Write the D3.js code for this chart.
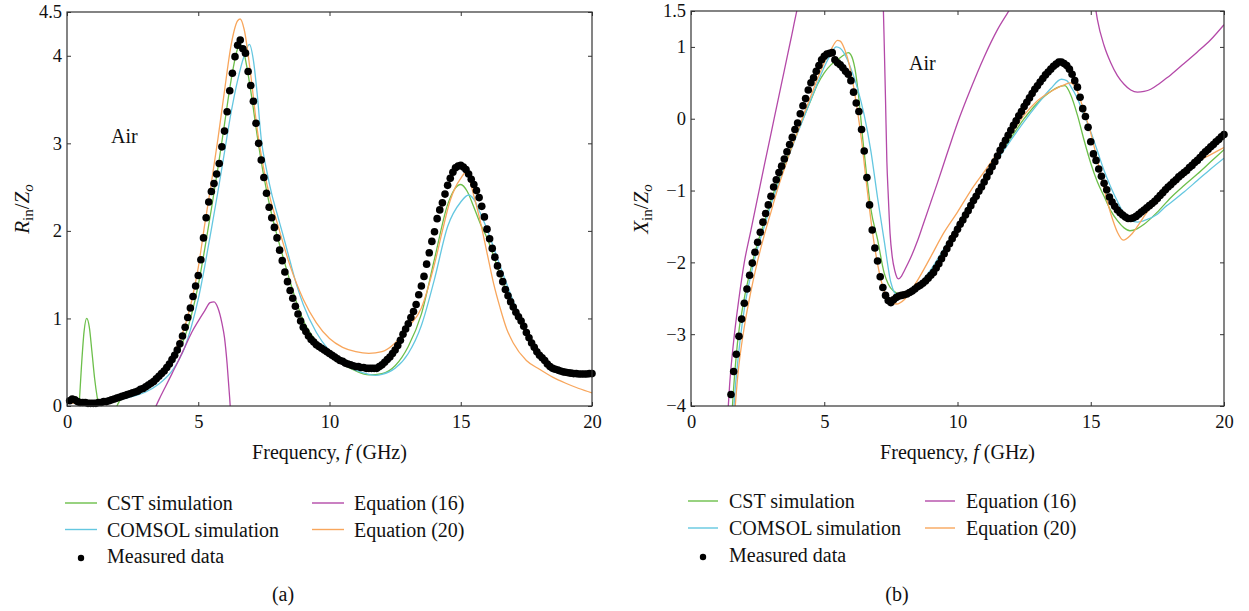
<!DOCTYPE html>
<meta charset="utf-8">
<style>
body { margin: 0; background: #fff; }
svg { font-family: "Liberation Serif", "DejaVu Serif", serif; }
.frame { fill: none; stroke: #333; stroke-width: 1.2px; }
.tick line { stroke: #333; stroke-width: 1px; }
.tick text { font-family: "Liberation Serif", serif; font-size: 18.5px; fill: #111; }
.line { fill: none; stroke-width: 1.3px; }
.lab { font-size: 20px; fill: #111; }
</style>
<body>
<script src="https://d3js.org/d3.v7.min.js"></script>
<script>

// ---- panel (a): Rin/Zo ----
// measured data, 0.1 GHz steps from 0.1 to 20.0 GHz
var leftMeasured = [
  0.06,0.08,0.07,0.05,0.04,0.04,0.04,0.03,0.03,0.03,
  0.03,0.04,0.04,0.05,0.05,0.06,0.07,0.08,0.09,0.10,
  0.11,0.12,0.13,0.14,0.15,0.16,0.17,0.19,0.20,0.22,
  0.24,0.26,0.28,0.31,0.34,0.37,0.40,0.44,0.48,0.53,
  0.58,0.64,0.71,0.80,0.90,1.01,1.12,1.25,1.37,1.49,
  1.67,1.92,2.15,2.33,2.45,2.54,2.65,2.77,2.96,3.14,
  3.36,3.60,3.80,3.99,4.12,4.18,4.08,4.03,3.82,3.66,
  3.48,3.23,3.00,2.81,2.61,2.43,2.27,2.15,2.04,1.92,
  1.78,1.66,1.53,1.42,1.32,1.23,1.14,1.05,0.97,0.90,
  0.85,0.80,0.76,0.73,0.70,0.68,0.66,0.64,0.62,0.60,
  0.58,0.56,0.54,0.52,0.51,0.49,0.48,0.47,0.46,0.45,
  0.45,0.44,0.44,0.43,0.43,0.43,0.43,0.43,0.45,0.47,
  0.50,0.53,0.56,0.60,0.64,0.69,0.75,0.82,0.88,0.94,
  1.01,1.08,1.16,1.27,1.37,1.48,1.62,1.75,1.88,1.99,
  2.14,2.24,2.32,2.42,2.52,2.60,2.67,2.72,2.74,2.75,
  2.73,2.70,2.65,2.59,2.53,2.46,2.38,2.28,2.16,2.02,
  1.91,1.80,1.70,1.60,1.51,1.42,1.33,1.26,1.19,1.13,
  1.07,1.02,0.97,0.91,0.84,0.78,0.72,0.67,0.62,0.58,
  0.55,0.52,0.48,0.45,0.43,0.42,0.41,0.40,0.39,0.385,
  0.38,0.375,0.37,0.37,0.365,0.365,0.365,0.365,0.37,0.37
];
var leftFreq = d3.range(1, 201).map(function(i) { return i / 10; });

var leftCst = [[0.35,-0.4],[0.45,-0.05],[0.55,0.45],[0.65,0.85],[0.75,1.0],[0.85,0.9],[0.95,0.62],[1.05,0.32],[1.15,0.1],[1.25,-0.05],[1.4,-0.2],[1.6,-0.25],[1.8,-0.08],[1.95,0.03],[2.1,0.09],[2.3,0.12],[2.5,0.14],[2.75,0.16],[3.0,0.2],[3.25,0.25],[3.5,0.31],[3.75,0.38],[4.0,0.48],[4.25,0.62],[4.5,0.8],[4.75,1.05],[5.0,1.38],[5.25,1.8],[5.5,2.25],[5.75,2.72],[6.0,3.22],[6.25,3.72],[6.5,4.08],[6.6,4.13],[6.75,4.02],[7.0,3.6],[7.25,3.08],[7.5,2.62],[7.75,2.25],[8.0,1.95],[8.25,1.68],[8.5,1.42],[8.75,1.18],[9.0,0.98],[9.5,0.74],[10.0,0.6],[10.5,0.48],[11.0,0.4],[11.5,0.355],[12.0,0.37],[12.5,0.46],[13.0,0.68],[13.5,1.05],[14.0,1.68],[14.5,2.3],[14.75,2.47],[15.0,2.53],[15.25,2.45],[15.5,2.27],[15.75,2.08],[16.0,1.92],[16.5,1.5],[17.0,1.12],[17.5,0.82],[18.0,0.58],[18.5,0.44],[19.0,0.38],[19.5,0.36],[20.0,0.35]];

var leftComsol = [[0.1,0.05],[0.5,0.03],[1.0,0.03],[1.5,0.04],[2.0,0.07],[2.5,0.11],[3.0,0.16],[3.5,0.25],[4.0,0.4],[4.25,0.52],[4.5,0.68],[4.75,0.92],[5.0,1.22],[5.25,1.6],[5.5,2.02],[5.75,2.45],[6.0,2.9],[6.25,3.35],[6.5,3.72],[6.75,4.0],[6.95,4.13],[7.1,3.95],[7.25,3.55],[7.4,3.05],[7.6,2.7],[7.8,2.42],[8.0,2.2],[8.25,1.93],[8.5,1.65],[8.75,1.38],[9.0,1.16],[9.5,0.84],[10.0,0.63],[10.5,0.49],[11.0,0.41],[11.5,0.36],[11.75,0.35],[12.0,0.36],[12.5,0.43],[13.0,0.6],[13.5,0.92],[14.0,1.45],[14.5,2.05],[15.0,2.33],[15.3,2.41],[15.5,2.36],[15.75,2.2],[16.0,2.02],[16.5,1.6],[17.0,1.2],[17.5,0.86],[18.0,0.61],[18.5,0.46],[19.0,0.4],[19.5,0.37],[20.0,0.36]];

var leftEq16 = [[3.3,-0.06],[3.5,0.07],[3.75,0.22],[4.0,0.37],[4.25,0.52],[4.5,0.68],[4.75,0.84],[5.0,0.97],[5.25,1.09],[5.45,1.18],[5.6,1.19],[5.75,1.12],[5.9,0.95],[6.0,0.78],[6.1,0.48],[6.2,0.08],[6.26,-0.2]];

var leftEq20 = [[0.1,0.03],[0.5,0.04],[1.0,0.05],[1.5,0.07],[2.0,0.11],[2.5,0.16],[3.0,0.24],[3.5,0.36],[4.0,0.56],[4.25,0.72],[4.5,0.92],[4.75,1.2],[5.0,1.58],[5.25,2.08],[5.5,2.55],[5.75,3.05],[6.0,3.6],[6.25,4.12],[6.5,4.4],[6.6,4.42],[6.75,4.3],[7.0,3.78],[7.25,3.15],[7.5,2.7],[7.75,2.36],[8.0,2.1],[8.5,1.6],[9.0,1.22],[9.5,0.95],[10.0,0.77],[10.5,0.67],[11.0,0.62],[11.5,0.6],[12.0,0.62],[12.5,0.72],[13.0,0.9],[13.5,1.12],[14.0,1.62],[14.3,2.0],[14.6,2.35],[14.8,2.5],[15.0,2.6],[15.2,2.67],[15.5,2.4],[15.75,2.1],[16.0,1.75],[16.25,1.4],[16.5,1.12],[16.75,0.88],[17.0,0.72],[17.5,0.52],[18.0,0.42],[18.5,0.33],[19.0,0.26],[19.5,0.2],[20.0,0.15]];

// ---- panel (b): Xin/Zo ----
// measured data, 0.1 GHz steps from 1.5 to 20.0 GHz
var rightMeasured = [
  -3.84,-3.52,-3.28,-3.03,-2.79,
  -2.57,-2.37,-2.18,-2.01,-1.86,-1.72,-1.58,-1.44,-1.32,-1.20,
  -1.08,-0.95,-0.85,-0.75,-0.66,-0.56,-0.46,-0.36,-0.26,-0.15,
  -0.06,0.07,0.18,0.28,0.40,0.50,0.57,0.66,0.74,0.82,
  0.87,0.90,0.91,0.92,0.82,0.78,0.75,0.71,0.66,0.62,
  0.53,0.37,0.22,0.10,-0.15,-0.45,-0.82,-1.20,-1.55,-1.80,
  -1.98,-2.20,-2.35,-2.46,-2.53,-2.56,-2.52,-2.49,-2.47,-2.46,
  -2.45,-2.44,-2.42,-2.40,-2.37,-2.34,-2.32,-2.29,-2.26,-2.22,
  -2.18,-2.14,-2.08,-2.02,-1.95,-1.88,-1.81,-1.74,-1.67,-1.61,
  -1.54,-1.47,-1.41,-1.34,-1.28,-1.21,-1.14,-1.08,-1.01,-0.95,
  -0.88,-0.81,-0.74,-0.67,-0.60,-0.52,-0.44,-0.37,-0.30,-0.23,
  -0.16,-0.09,-0.03,0.04,0.10,0.17,0.23,0.29,0.35,0.41,
  0.46,0.51,0.56,0.61,0.65,0.69,0.73,0.76,0.79,0.79,
  0.77,0.74,0.69,0.62,0.53,0.44,0.30,0.14,0.03,-0.12,
  -0.32,-0.49,-0.58,-0.70,-0.80,-0.90,-0.99,-1.09,-1.16,-1.22,
  -1.27,-1.31,-1.34,-1.37,-1.39,-1.39,-1.38,-1.36,-1.33,-1.30,
  -1.27,-1.24,-1.21,-1.18,-1.15,-1.11,-1.07,-1.03,-0.99,-0.95,
  -0.92,-0.88,-0.85,-0.81,-0.78,-0.75,-0.72,-0.68,-0.65,-0.61,
  -0.58,-0.54,-0.50,-0.46,-0.43,-0.39,-0.36,-0.32,-0.29,-0.25,
  -0.22
];
var rightFreq = d3.range(15, 201).map(function(i) { return i / 10; });

var rightCst = [[1.52,-4.2],[1.6,-3.75],[1.75,-3.1],[2.0,-2.5],[2.25,-2.08],[2.5,-1.73],[2.75,-1.44],[3.0,-1.14],[3.25,-0.88],[3.5,-0.64],[3.75,-0.41],[4.0,-0.18],[4.25,0.04],[4.5,0.26],[4.75,0.48],[5.0,0.64],[5.25,0.75],[5.5,0.82],[5.75,0.89],[5.9,0.92],[6.0,0.89],[6.15,0.7],[6.3,0.28],[6.45,-0.3],[6.6,-0.82],[6.75,-1.26],[7.0,-1.68],[7.25,-2.15],[7.4,-2.3],[7.6,-2.4],[7.9,-2.45],[8.0,-2.44],[8.5,-2.33],[9.0,-2.12],[9.5,-1.82],[10.0,-1.5],[10.5,-1.17],[11.0,-0.86],[11.5,-0.56],[12.0,-0.27],[12.5,0.0],[13.0,0.22],[13.5,0.38],[13.85,0.45],[14.03,0.46],[14.25,0.33],[14.5,0.05],[14.75,-0.3],[15.0,-0.62],[15.25,-0.88],[15.5,-1.08],[15.75,-1.28],[16.0,-1.42],[16.25,-1.52],[16.47,-1.56],[16.75,-1.53],[17.0,-1.47],[17.5,-1.3],[18.0,-1.1],[18.5,-0.93],[19.0,-0.77],[19.5,-0.6],[20.0,-0.43]];

var rightComsol = [[1.58,-4.2],[1.65,-3.8],[1.75,-3.4],[2.0,-2.65],[2.25,-2.17],[2.5,-1.8],[2.75,-1.5],[3.0,-1.2],[3.25,-0.93],[3.5,-0.68],[3.75,-0.44],[4.0,-0.2],[4.25,0.03],[4.5,0.27],[4.75,0.5],[5.0,0.72],[5.25,0.9],[5.45,1.0],[5.6,0.98],[5.75,0.91],[6.0,0.7],[6.25,0.42],[6.5,0.05],[6.75,-0.45],[7.0,-1.1],[7.25,-1.7],[7.5,-2.28],[7.75,-2.46],[8.0,-2.45],[8.5,-2.32],[9.0,-2.1],[9.5,-1.8],[10.0,-1.48],[10.5,-1.16],[11.0,-0.86],[11.5,-0.57],[12.0,-0.3],[12.5,-0.04],[13.0,0.2],[13.5,0.42],[13.9,0.55],[14.1,0.53],[14.25,0.45],[14.5,0.28],[14.75,0.05],[15.0,-0.18],[15.25,-0.45],[15.5,-0.72],[15.75,-0.95],[16.0,-1.15],[16.25,-1.32],[16.5,-1.42],[16.75,-1.44],[17.0,-1.42],[17.5,-1.33],[17.85,-1.21],[18.0,-1.17],[18.5,-1.02],[19.0,-0.86],[19.5,-0.7],[20.0,-0.55]];

// equation (16) has three separate branches inside the window
var rightEq16 = [
  [[1.35,-4.3],[1.45,-3.7],[1.6,-3.1],[1.8,-2.5],[2.0,-2.0],[2.25,-1.55],[2.5,-1.1],[2.75,-0.65],[3.0,-0.21],[3.25,0.23],[3.5,0.67],[3.75,1.11],[4.0,1.55],[4.1,1.7]],
  [[7.18,1.8],[7.22,1.5],[7.25,1.05],[7.3,0.25],[7.35,-0.6],[7.4,-1.05],[7.47,-1.6],[7.55,-1.92],[7.65,-2.12],[7.78,-2.23],[7.9,-2.19],[8.0,-2.12],[8.25,-1.93],[8.5,-1.7],[8.75,-1.43],[9.0,-1.16],[9.25,-0.89],[9.5,-0.61],[9.75,-0.33],[10.0,-0.06],[10.5,0.42],[11.0,0.86],[11.5,1.24],[12.0,1.55],[12.1,1.62]],
  [[15.1,1.75],[15.25,1.38],[15.5,1.02],[15.75,0.78],[16.0,0.6],[16.25,0.48],[16.5,0.4],[16.75,0.37],[17.0,0.38],[17.25,0.41],[17.5,0.47],[17.75,0.54],[18.0,0.61],[18.5,0.77],[19.0,0.93],[19.5,1.1],[20.0,1.31]]
];

var rightEq20 = [[1.62,-4.2],[1.75,-3.6],[2.0,-2.9],[2.25,-2.4],[2.5,-1.98],[2.75,-1.62],[3.0,-1.3],[3.25,-0.98],[3.5,-0.7],[3.75,-0.43],[4.0,-0.18],[4.25,0.08],[4.5,0.32],[4.75,0.56],[5.0,0.78],[5.25,0.96],[5.5,1.09],[5.6,1.08],[5.75,0.98],[6.0,0.65],[6.2,0.22],[6.4,-0.3],[6.6,-0.95],[6.8,-1.55],[7.0,-2.02],[7.25,-2.4],[7.5,-2.55],[7.72,-2.58],[8.0,-2.52],[8.5,-2.25],[9.0,-1.92],[9.5,-1.58],[10.0,-1.3],[10.5,-1.0],[11.0,-0.74],[11.5,-0.48],[12.0,-0.22],[12.5,0.05],[13.0,0.25],[13.5,0.38],[14.0,0.47],[14.24,0.5],[14.5,0.38],[14.75,0.1],[15.0,-0.2],[15.25,-0.58],[15.5,-0.98],[15.75,-1.32],[16.0,-1.58],[16.22,-1.69],[16.5,-1.62],[16.75,-1.5],[17.0,-1.36],[17.5,-1.12],[17.85,-0.93],[18.0,-0.88],[18.5,-0.73],[19.0,-0.6],[19.5,-0.5],[20.0,-0.4]];

var xTicks = [0, 5, 10, 15, 20];
var leftTicks = [0, 1, 2, 3, 4, 4.5];
var rightTicks = [-4, -3, -2, -1, 0, 1, 1.5];

var colors = { cst: "#6cbf4a", comsol: "#64c7e0", eq16: "#b449a8", eq20: "#f8a65c" };

var svg = d3.select("body").append("svg")
    .attr("width", 1249)
    .attr("height", 611);

function fmt(d) { return d < 0 ? "\u2212" + Math.abs(d) : String(d); }

function drawPanel(p) {
  var x = d3.scaleLinear().domain([0, 20]).range([p.left, p.right]);
  var y = d3.scaleLinear().domain(p.yDomain).range([p.bottom, p.top]);

  svg.append("clipPath").attr("id", "clip" + p.name)
    .append("rect")
      .attr("x", p.left).attr("y", p.top)
      .attr("width", p.right - p.left).attr("height", p.bottom - p.top);

  // inward ticks on all four sides
  svg.append("g").attr("transform", "translate(0," + p.bottom + ")")
      .call(d3.axisBottom(x).tickValues(xTicks).tickSize(-4).tickPadding(9))
      .call(function(g) { g.select(".domain").remove(); });
  svg.append("g").attr("transform", "translate(0," + p.top + ")")
      .call(d3.axisTop(x).tickValues(xTicks).tickSize(-4).tickFormat(""))
      .call(function(g) { g.select(".domain").remove(); });
  svg.append("g").attr("transform", "translate(" + p.left + ",0)")
      .call(d3.axisLeft(y).tickValues(p.yTicks).tickSize(-4).tickPadding(5).tickFormat(fmt))
      .call(function(g) { g.select(".domain").remove(); });
  svg.append("g").attr("transform", "translate(" + p.right + ",0)")
      .call(d3.axisRight(y).tickValues(p.yTicks).tickSize(-4).tickFormat(""))
      .call(function(g) { g.select(".domain").remove(); });

  var line = d3.line()
      .x(function(d) { return x(d[0]); })
      .y(function(d) { return y(d[1]); })
      .curve(d3.curveMonotoneX);

  var plot = svg.append("g").attr("clip-path", "url(#clip" + p.name + ")");
  p.series.forEach(function(s) {
    s.parts.forEach(function(part) {
      plot.append("path")
          .datum(part)
          .attr("class", "line")
          .style("stroke", s.color)
          .attr("d", line);
    });
  });

  // measured dots
  svg.append("g").selectAll("circle")
      .data(p.measured)
    .enter().append("circle")
      .attr("cx", function(d) { return x(d[0]); })
      .attr("cy", function(d) { return y(d[1]); })
      .attr("r", 3.8)
      .style("fill", "#000");

  svg.append("rect").attr("class", "frame")
      .attr("x", p.left).attr("y", p.top)
      .attr("width", p.right - p.left).attr("height", p.bottom - p.top);

  // x label
  var xl = svg.append("text").attr("class", "lab")
      .attr("x", (p.left + p.right) / 2).attr("y", 459)
      .attr("text-anchor", "middle");
  xl.append("tspan").text("Frequency, ");
  xl.append("tspan").style("font-style", "italic").text("f");
  xl.append("tspan").text(" (GHz)");

  // y label
  var yl = svg.append("text").attr("class", "lab")
      .attr("transform", "translate(" + p.yLabelX + ",209) rotate(-90)")
      .attr("text-anchor", "middle")
      .style("font-size", "21px");
  yl.append("tspan").style("font-style", "italic").text(p.yLetter);
  yl.append("tspan").attr("dy", 4).style("font-size", "15px").text("in");
  yl.append("tspan").attr("dy", -4).text("/");
  yl.append("tspan").style("font-style", "italic").text("Z");
  yl.append("tspan").attr("dy", 4).style("font-size", "15px").style("font-style", "italic").text("o");

  svg.append("text").attr("class", "lab")
      .attr("x", p.airX).attr("y", p.airY).text("Air");

  // legend
  var lg = p.legend;
  var items = [
    { label: "CST simulation", color: colors.cst, col: 0, row: 0 },
    { label: "COMSOL simulation", color: colors.comsol, col: 0, row: 1 },
    { label: "Measured data", dot: true, col: 0, row: 2 },
    { label: "Equation (16)", color: colors.eq16, col: 1, row: 0 },
    { label: "Equation (20)", color: colors.eq20, col: 1, row: 1 }
  ];
  items.forEach(function(it) {
    var x0 = lg.cols[it.col];
    var yb = lg.y0 + it.row * lg.dy;
    if (it.dot) {
      svg.append("circle").attr("cx", x0 + lg.len / 2).attr("cy", yb - 5).attr("r", 3.2).style("fill", "#000");
    } else {
      svg.append("line")
          .attr("x1", x0).attr("x2", x0 + lg.len)
          .attr("y1", yb - 7).attr("y2", yb - 7)
          .style("stroke", it.color).style("stroke-width", 1.4);
    }
    svg.append("text").attr("class", "lab")
        .attr("x", x0 + lg.len + lg.gap).attr("y", yb)
        .text(it.label);
  });

  svg.append("text").attr("class", "lab")
      .attr("x", p.capX).attr("y", 601)
      .attr("text-anchor", "middle")
      .text(p.caption);
}

function pairs(freq, vals) {
  return vals.map(function(v, i) { return [freq[i], v]; });
}

drawPanel({
  name: "a", left: 67, right: 592, top: 12, bottom: 406,
  yDomain: [0, 4.5], yTicks: leftTicks, yLetter: "R", yLabelX: 29,
  airX: 111, airY: 143,
  series: [
    { color: colors.cst, parts: [leftCst] },
    { color: colors.comsol, parts: [leftComsol] },
    { color: colors.eq16, parts: [leftEq16] },
    { color: colors.eq20, parts: [leftEq20] }
  ],
  measured: pairs(leftFreq, leftMeasured),
  legend: { cols: [65, 312], y0: 510, dy: 26.5, len: 32, gap: 10 },
  capX: 283, caption: "(a)"
});

drawPanel({
  name: "b", left: 691, right: 1224, top: 11, bottom: 406,
  yDomain: [-4, 1.5], yTicks: rightTicks, yLetter: "X", yLabelX: 648,
  airX: 909, airY: 70,
  series: [
    { color: colors.cst, parts: [rightCst] },
    { color: colors.comsol, parts: [rightComsol] },
    { color: colors.eq16, parts: rightEq16 },
    { color: colors.eq20, parts: [rightEq20] }
  ],
  measured: pairs(rightFreq, rightMeasured),
  legend: { cols: [688, 925], y0: 508, dy: 27, len: 30, gap: 11 },
  capX: 897, caption: "(b)"
});

</script>
</body>
